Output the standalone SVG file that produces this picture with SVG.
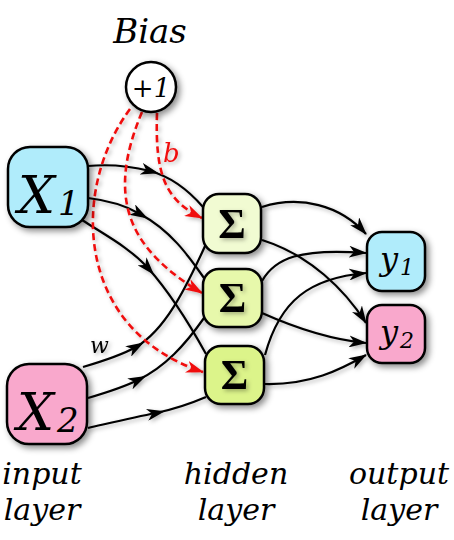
<svg xmlns="http://www.w3.org/2000/svg" width="454" height="540" viewBox="0 0 454 540">
<style>
.lbl{font-family:"DejaVu Serif","Liberation Serif",serif;font-style:italic;fill:#000}
.box{stroke:#000;stroke-width:2.5}
.edge{fill:none;stroke:#000;stroke-width:2.2}
.bias{fill:none;stroke:#f01010;stroke-width:2.6;stroke-dasharray:7,4}
.sig{font-family:"Liberation Serif","DejaVu Serif",serif;font-weight:bold;font-size:42px;fill:#000;text-anchor:middle}
</style>
<defs>
<filter id="sh" x="-30%" y="-30%" width="170%" height="170%">
<feDropShadow dx="3" dy="3" stdDeviation="3" flood-color="#000" flood-opacity="0.45"/>
</filter>
<filter id="lsh" x="-10%" y="-10%" width="130%" height="130%">
<feDropShadow dx="2" dy="2" stdDeviation="2" flood-color="#000" flood-opacity="0.3"/>
</filter>
<marker id="am" viewBox="0 0 18 12" refX="9" refY="6" markerWidth="18" markerHeight="12" markerUnits="userSpaceOnUse" orient="auto">
<path d="M0,0 L18,6 L0,12 L5,6 Z" fill="#000"/>
</marker>
<marker id="ae" viewBox="0 0 18 12" refX="17" refY="6" markerWidth="18" markerHeight="12" markerUnits="userSpaceOnUse" orient="auto">
<path d="M0,0 L18,6 L0,12 L5,6 Z" fill="#000"/>
</marker>
<marker id="ar" viewBox="0 0 18 12" refX="17" refY="6" markerWidth="18" markerHeight="12" markerUnits="userSpaceOnUse" orient="auto">
<path d="M0,0 L18,6 L0,12 L5,6 Z" fill="#f01010"/>
</marker>
</defs>
<rect width="454" height="540" fill="#fff"/>

<g id="connectors" filter="url(#lsh)">
<path class="edge" marker-mid="url(#am)" d="M88,166 C110,164 130,166 150,171 C172,177 190,192 203,207"/>
<path class="edge" marker-mid="url(#am)" d="M88,198 C105,200 125,205 140,214 C170,230 188,255 204,278"/>
<path class="edge" marker-mid="url(#am)" d="M82,220 C105,235 130,248 148,268 C172,295 190,325 206,354"/>
<path class="edge" marker-mid="url(#am)" d="M83,367 C100,362 120,356 136,347 C165,330 185,290 206,244"/>
<path class="edge" marker-mid="url(#am)" d="M88,398 C105,393 122,388 138,380 C165,367 185,345 204,318"/>
<path class="edge" marker-mid="url(#am)" d="M88,428 C110,423 135,417 156,413 C175,409 192,403 206,397"/>
<path class="edge" marker-end="url(#ae)" d="M262,207 C300,195 340,205 366,234"/>
<path class="edge" marker-end="url(#ae)" d="M262,240 C310,255 345,290 366,323"/>
<path class="edge" marker-end="url(#ae)" d="M262,281 C275,258 300,248 366,253"/>
<path class="edge" marker-end="url(#ae)" d="M262,313 C300,330 335,340 366,343"/>
<path class="edge" marker-end="url(#ae)" d="M265,355 C280,300 310,278 366,273"/>
<path class="edge" marker-end="url(#ae)" d="M265,384 C310,385 340,370 366,355"/>
<path class="bias" marker-end="url(#ar)" d="M130,109 C70,190 75,330 203,372"/>
<path class="bias" marker-end="url(#ar)" d="M142,112 C105,200 130,250 202,293"/>
<path class="bias" marker-end="url(#ar)" d="M157,113 C155,175 165,200 202,218"/>
<text class="lbl" x="163" y="162" font-size="26" style="fill:#f01010">b</text>
<text class="lbl" x="90" y="353" font-size="22">w</text>
</g>

<g id="bias">
<text class="lbl" x="150" y="43" font-size="34" text-anchor="middle">Bias</text>
<circle cx="151" cy="87" r="25" fill="#fff" class="box" filter="url(#sh)"/>
<text x="151" y="97" font-family="DejaVu Serif, serif" font-size="26" text-anchor="middle">+<tspan font-style="italic">1</tspan></text>
</g>

<g id="x1">
<rect x="8" y="147" width="80" height="80" rx="22" fill="#b0ecfb" class="box" filter="url(#sh)"/>
<text class="lbl" x="18" y="213" font-size="52">X</text>
<text class="lbl" x="58" y="215" font-size="34">1</text>
</g>
<g id="x2">
<rect x="7" y="364" width="80" height="80" rx="22" fill="#f9a8cc" class="box" filter="url(#sh)"/>
<text class="lbl" x="17" y="430" font-size="52">X</text>
<text class="lbl" x="57" y="432" font-size="34">2</text>
</g>

<g id="h1">
<rect x="203" y="194" width="58" height="59" rx="16" fill="#f1fbd2" class="box" filter="url(#sh)"/>
<text class="sig" x="232" y="238" filter="url(#lsh)">Σ</text>
</g>
<g id="h2">
<rect x="203" y="269" width="59" height="58" rx="16" fill="#e7f8ab" class="box" filter="url(#sh)"/>
<text class="sig" x="232.5" y="312" filter="url(#lsh)">Σ</text>
</g>
<g id="h3">
<rect x="205" y="346" width="59" height="58" rx="16" fill="#dcf48a" class="box" filter="url(#sh)"/>
<text class="sig" x="234.5" y="389" filter="url(#lsh)">Σ</text>
</g>

<g id="y1">
<rect x="367" y="232" width="58" height="59" rx="15" fill="#b0ecfb" class="box" filter="url(#sh)"/>
<text class="lbl" x="380" y="270" font-size="32">y</text>
<text class="lbl" x="400" y="275" font-size="22">1</text>
</g>
<g id="y2">
<rect x="367" y="305" width="58" height="58" rx="15" fill="#f9a8cc" class="box" filter="url(#sh)"/>
<text class="lbl" x="380" y="343" font-size="32">y</text>
<text class="lbl" x="400" y="348" font-size="22">2</text>
</g>

<g id="labels">
<text class="lbl" x="42" y="484" font-size="30" text-anchor="middle">input</text>
<text class="lbl" x="42" y="520" font-size="30" text-anchor="middle">layer</text>
<text class="lbl" x="236" y="484" font-size="30" text-anchor="middle">hidden</text>
<text class="lbl" x="236" y="520" font-size="30" text-anchor="middle">layer</text>
<text class="lbl" x="399" y="484" font-size="30" text-anchor="middle">output</text>
<text class="lbl" x="399" y="520" font-size="30" text-anchor="middle">layer</text>
</g>
</svg>
